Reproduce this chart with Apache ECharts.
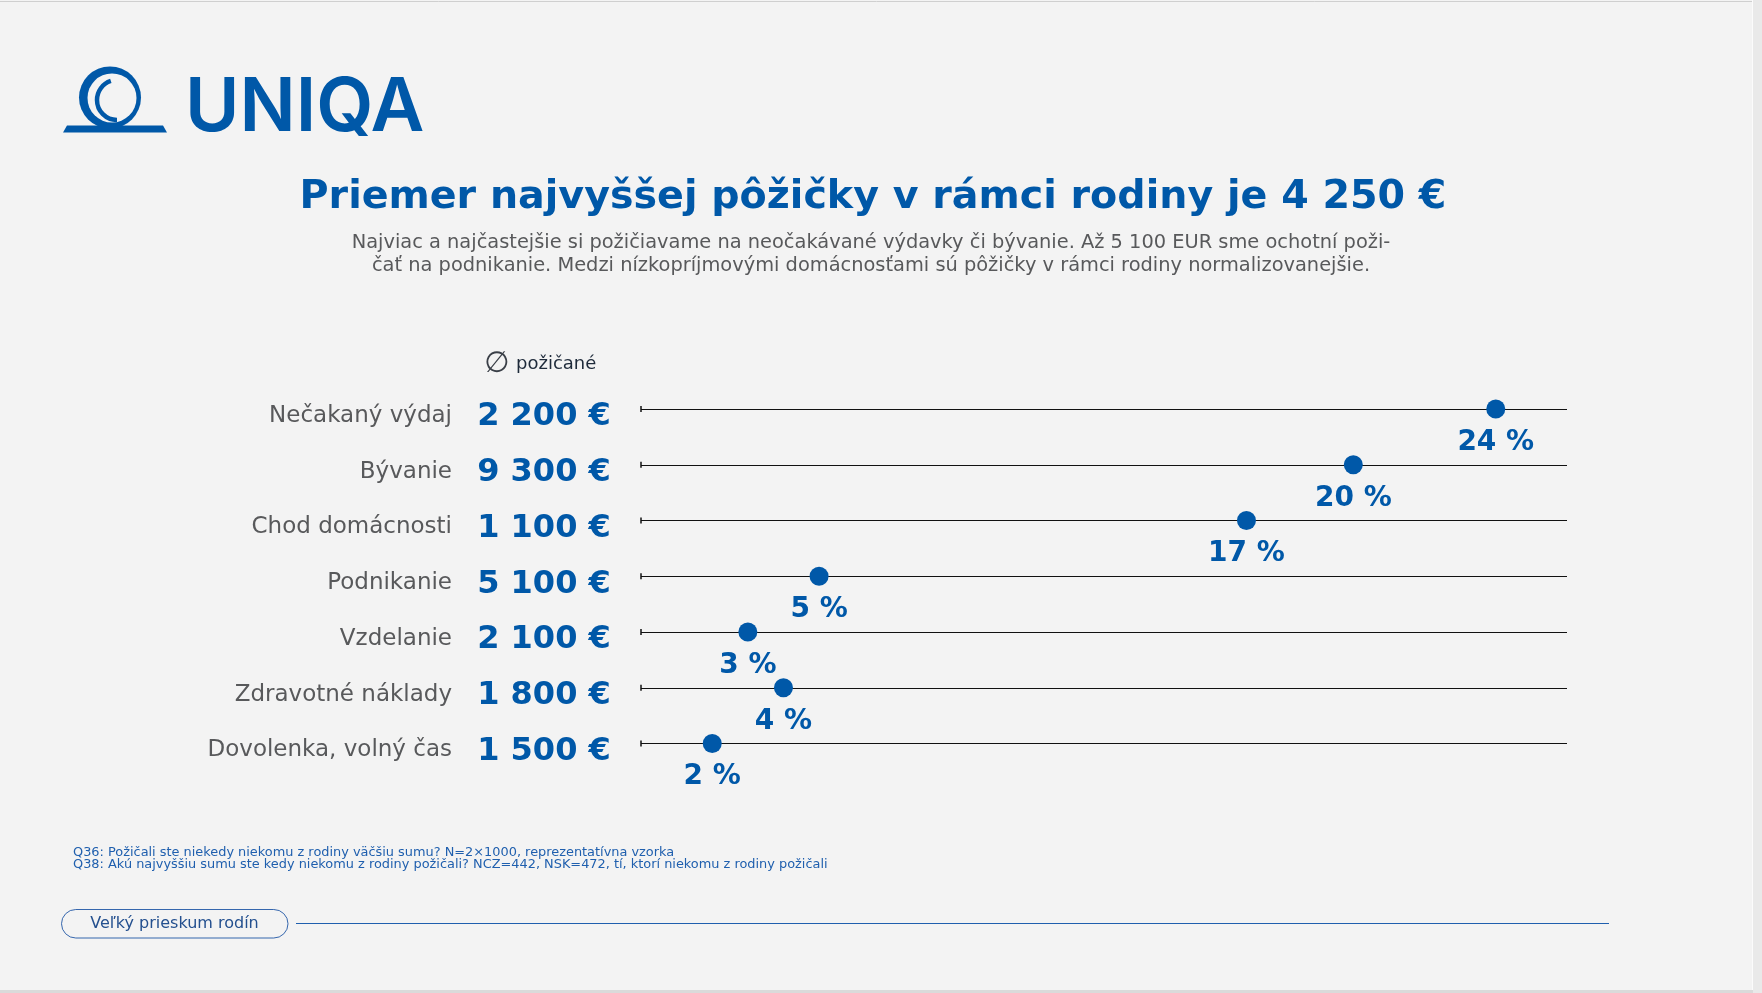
<!DOCTYPE html>
<html>
<head>
<meta charset="utf-8">
<script src="https://cdn.jsdelivr.net/npm/echarts@6/dist/echarts.min.js"></script>
<style>
html,body{margin:0;padding:0;background:#f3f3f3;}
#c{width:1762px;height:993px;}
</style>
</head>
<body>
<div id="c"></div>
<script>
// ---- data ----
const categories = ['Nečakaný výdaj', 'Bývanie', 'Chod domácnosti', 'Podnikanie', 'Vzdelanie', 'Zdravotné náklady', 'Dovolenka, volný čas'];
const amounts = [2200, 9300, 1100, 5100, 2100, 1800, 1500];   // priemerná požičaná suma (€)
const shares = [24, 20, 17, 5, 3, 4, 2];                       // podiel (%)
const titleText = 'Priemer najvyššej pôžičky v rámci rodiny je 4 250 €';
const subtitleLines = [
  'Najviac a najčastejšie si požičiavame na neočakávané výdavky či bývanie. Až 5 100 EUR sme ochotní poži-',
  'čať na podnikanie. Medzi nízkopríjmovými domácnosťami sú pôžičky v rámci rodiny normalizovanejšie.'
];
const footnotes = [
  'Q36: Požičali ste niekedy niekomu z rodiny väčšiu sumu? N=2×1000, reprezentatívna vzorka',
  'Q38: Akú najvyššiu sumu ste kedy niekomu z rodiny požičali? NCZ=442, NSK=472, tí, ktorí niekomu z rodiny požičali'
];
const headerText = 'požičané';
const pillText = 'Veľký prieskum rodín';

// ---- chart ----
const BLUE = '#0058a8';
const BG = '#f3f3f3';
const FONT = '"DejaVu Sans", sans-serif';
const fmtAmt = v => String(v).replace(/\B(?=(\d{3})+(?!\d))/g, ' ') + ' €';

function txt(x, y, text, size, weight, color, align, family) {
  return {
    type: 'text', x: x, y: y, silent: true,
    style: {
      text: text, fontSize: size, fontWeight: weight, fontFamily: family || FONT, fill: color,
      align: align, textAlign: align, verticalAlign: 'middle', textVerticalAlign: 'middle'
    }
  };
}

const chart = echarts.init(document.getElementById('c'), null, {renderer: 'canvas'});
const option = {
  backgroundColor: BG,
  animation: false,
  grid: {left: 641, right: 195, top: 409, bottom: 249.5, containLabel: false},
  xAxis: {type: 'value', min: 0, max: 26, show: false},
  yAxis: [
    {
      type: 'category', data: categories, inverse: true, boundaryGap: false,
      axisLine: {show: false}, axisTick: {show: false},
      splitLine: {show: true, interval: 0, lineStyle: {color: '#111111', width: 1.2}},
      axisLabel: {interval: 0, margin: 189, fontSize: 23, fontFamily: FONT, color: '#58595b',
        verticalAlign: 'top', lineHeight: 14}
    },
    {
      type: 'category', data: categories, inverse: true, boundaryGap: false, position: 'left', offset: 0,
      axisLine: {show: false}, axisTick: {show: false}, splitLine: {show: false},
      axisLabel: {
        interval: 0, margin: 97, align: 'center', fontSize: 32, fontWeight: 'bold', fontFamily: FONT,
        color: BLUE, verticalAlign: 'top', lineHeight: 16,
        formatter: (v, i) => fmtAmt(amounts[i])
      }
    }
  ],
  series: [
    {
      type: 'scatter', silent: true, clip: false, z: 1,
      data: categories.map(c => [0, c]),
      symbol: 'rect', symbolSize: [1.5, 6],
      itemStyle: {color: '#111111', opacity: 1}
    },
    {
      type: 'scatter', silent: true, clip: false, z: 3,
      data: shares.map((v, i) => [v, categories[i]]),
      symbolSize: 19,
      itemStyle: {color: BLUE, opacity: 1},
      label: {
        show: true, position: 'bottom', distance: 10,
        formatter: p => p.value[0] + ' %',
        fontFamily: FONT, fontWeight: 'bold', fontSize: 28, color: BLUE, opacity: 1
      }
    }
  ],
  graphic: [
    // page frame
    {type: 'line', silent: true, shape: {x1: 0, y1: 1.5, x2: 1753, y2: 1.5}, style: {stroke: '#cfcfcf', lineWidth: 1}},
    {type: 'rect', silent: true, shape: {x: 1753, y: 0, width: 9, height: 993}, style: {fill: '#e9e9e9'}},
    {type: 'line', silent: true, shape: {x1: 1752.5, y1: 0, x2: 1752.5, y2: 993}, style: {stroke: '#fbfbfb', lineWidth: 1}},
    {type: 'rect', silent: true, shape: {x: 0, y: 990, width: 1753, height: 3}, style: {fill: '#dadada'}},
    // logo symbol
    {type: 'circle', silent: true, shape: {cx: 110, cy: 97.5, r: 31}, style: {fill: BLUE}},
    {type: 'circle', silent: true, shape: {cx: 112, cy: 98, r: 24.5}, style: {fill: BG}},
    {type: 'arc', silent: true, shape: {cx: 117, cy: 100, r: 20, startAngle: Math.PI * 0.5, endAngle: Math.PI * 1.4, clockwise: true},
      style: {stroke: BLUE, lineWidth: 4.5, fill: null}},
    {type: 'polygon', silent: true, shape: {points: [[63, 132.5], [67, 125.5], [163, 125.5], [167, 132.5]]}, style: {fill: BLUE}},
    txt(185, 109, 'UNIQA', 74, 600, BLUE, 'left', 'Inter, sans-serif'),
    // title & subtitle
    txt(873, 198, titleText, 39.6, 'bold', BLUE, 'center'),
    txt(871, 243, subtitleLines[0], 19.4, 'normal', '#58595b', 'center'),
    txt(871, 266, subtitleLines[1], 19.4, 'normal', '#58595b', 'center'),
    // column header
    txt(497, 364, '∅', 29, 'normal', '#3a3f47', 'center'),
    txt(516, 364, headerText, 18, 'normal', '#1e2a3a', 'left'),
    // footnotes
    txt(73, 852.5, footnotes[0], 12.9, 'normal', '#1f5fae', 'left'),
    txt(73, 865, footnotes[1], 12.9, 'normal', '#1f5fae', 'left'),
    // footer
    {type: 'rect', silent: true, shape: {x: 61.5, y: 909.5, width: 226.5, height: 28.5, r: 14.25}, style: {fill: null, stroke: '#3566ad', lineWidth: 1}},
    txt(174.5, 924, pillText, 16, 'normal', '#24508f', 'center'),
    {type: 'line', silent: true, shape: {x1: 296, y1: 923.5, x2: 1609, y2: 923.5}, style: {stroke: '#1f5fae', lineWidth: 1.2}}
  ]
};
chart.setOption(option);
</script>
</body>
</html>
